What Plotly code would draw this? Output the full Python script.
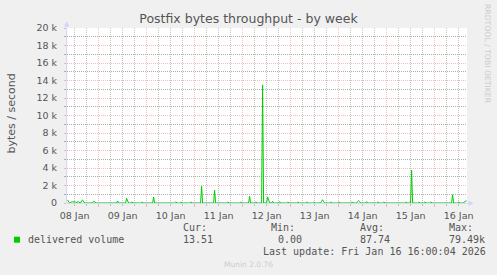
import pandas as pd
import plotly.graph_objects as go

# ---------------- data ----------------
title_text = "Postfix bytes throughput - by week"
y_title = "bytes / second"
series_name = "delivered volume"

# non-zero 30-min samples (bytes/s); all other samples sit at 0
spike_times = [
    "2026-01-08 08:30", "2026-01-08 09:00", "2026-01-08 10:30", "2026-01-08 11:00",
    "2026-01-08 11:30", "2026-01-08 12:00", "2026-01-08 12:30", "2026-01-08 13:30",
    "2026-01-08 14:00", "2026-01-08 15:30", "2026-01-08 16:00", "2026-01-08 16:30",
    "2026-01-08 21:30", "2026-01-08 22:00",
    "2026-01-09 09:30", "2026-01-09 14:00", "2026-01-09 14:30", "2026-01-09 16:30",
    "2026-01-09 21:30",
    "2026-01-10 03:30", "2026-01-10 14:30", "2026-01-10 17:00", "2026-01-10 22:00",
    "2026-01-11 03:30", "2026-01-11 10:00", "2026-01-11 16:30", "2026-01-11 23:00",
    "2026-01-12 03:30", "2026-01-12 06:30", "2026-01-12 10:00", "2026-01-12 12:30",
    "2026-01-12 13:00", "2026-01-12 15:00", "2026-01-12 18:30", "2026-01-12 22:30",
    "2026-01-13 03:30", "2026-01-13 08:00", "2026-01-13 11:30", "2026-01-13 15:30",
    "2026-01-13 16:00", "2026-01-13 16:30", "2026-01-13 20:00",
    "2026-01-14 00:00", "2026-01-14 02:30", "2026-01-14 06:30", "2026-01-14 09:30",
    "2026-01-14 10:00", "2026-01-14 10:30", "2026-01-14 14:00", "2026-01-14 19:30",
    "2026-01-14 22:30",
    "2026-01-15 09:30", "2026-01-15 11:30", "2026-01-15 12:30", "2026-01-15 16:00",
    "2026-01-15 19:00", "2026-01-15 22:00",
    "2026-01-16 09:00", "2026-01-16 12:00", "2026-01-16 15:00", "2026-01-16 15:30",
    "2026-01-16 16:00",
]
spike_values = [
    350, 120, 150, 130,
    150, 100, 120, 150,
    120, 250, 350, 120,
    200, 100,
    230, 530, 150, 120,
    100,
    680, 100, 100, 100,
    1900, 1450, 100, 100,
    760, 120, 13500, 700,
    200, 200, 150, 100,
    100, 100, 100, 200,
    380, 150, 100,
    100, 80, 100, 150,
    280, 150, 150, 100,
    100,
    100, 100, 3750, 100,
    100, 100,
    960, 100, 150, 250,
    250,
]
sample_start = "2026-01-08 08:30"
sample_end = "2026-01-16 16:00"

x_range = ["2026-01-08 08:12", "2026-01-16 16:12"]
day_ticks = ["2026-01-09", "2026-01-10", "2026-01-11", "2026-01-12",
             "2026-01-13", "2026-01-14", "2026-01-15", "2026-01-16"]
label_ticks = ["2026-01-08 12:00", "2026-01-09 12:00", "2026-01-10 12:00",
               "2026-01-11 12:00", "2026-01-12 12:00", "2026-01-13 12:00",
               "2026-01-14 12:00", "2026-01-15 12:00", "2026-01-16 12:00"]
day_labels = ["08 Jan", "09 Jan", "10 Jan", "11 Jan", "12 Jan",
              "13 Jan", "14 Jan", "15 Jan", "16 Jan"]
y_tickvals = [0, 2000, 4000, 6000, 8000, 10000, 12000, 14000, 16000, 18000, 20000]
y_ticktext = ["0", "2 k", "4 k", "6 k", "8 k", "10 k", "12 k", "14 k", "16 k", "18 k", "20 k"]

stat_heads = ["Cur:", "Min:", "Avg:", "Max:"]
stat_values = ["13.51", "0.00", "87.74", "79.49k"]
last_update = "Last update: Fri Jan 16 16:00:04 2026"
munin_ver = "Munin 2.0.76"
rrd_credit = "RRDTOOL / TOBI OETIKER"

# ---------------- build series ----------------
grid = pd.date_range(sample_start, sample_end, freq="30min")
lookup = dict(zip(pd.to_datetime(spike_times), spike_values))
values = [lookup.get(t, 0) for t in grid]

# 6-hourly gridline positions (not at midnight); labels only at noon
label_map = dict(zip(pd.to_datetime(label_ticks), day_labels))
six_h = [t for t in pd.date_range("2026-01-08 12:00", "2026-01-16 12:00", freq="6h")
         if t.hour != 0]
minor_x = [t.strftime("%Y-%m-%d %H:%M") for t in six_h]
minor_x_text = [label_map.get(t, "") for t in six_h]
minor_y = list(range(1000, 20000, 2000))

# ---------------- layout geometry ----------------
W_IMG, H_IMG = 497, 275
L, R, T, B = 67, 467, 28, 203
PW, PH = R - L, B - T

def px(x):
    return (x - L) / PW

def py(y):
    return (B - y) / PH

FONT_C = "#555555"
MGRID = "rgba(230,100,100,0.42)"
GRID_X = "rgba(140,140,140,0.5)"
GRID_Y = "rgba(130,130,130,0.65)"
AXIS_C = "#CFD6F8"
GREEN = "#00CC00"
DOT = "1px,1px"

fig = go.Figure()
# invisible helpers so the overlay grid axes are drawn
fig.add_trace(go.Scatter(x=x_range, y=[0, 0], mode="lines", xaxis="x2", yaxis="y",
                         line=dict(width=0), showlegend=False, hoverinfo="skip"))
fig.add_trace(go.Scatter(x=x_range, y=[0, 0], mode="lines", xaxis="x", yaxis="y2",
                         line=dict(width=0), showlegend=False, hoverinfo="skip"))
fig.add_trace(go.Scatter(x=grid, y=values, mode="lines",
                         line=dict(color=GREEN, width=1), showlegend=False,
                         hoverinfo="skip", cliponaxis=False))

fig.update_layout(
    width=W_IMG, height=H_IMG,
    margin=dict(l=L, r=W_IMG - R, t=T, b=H_IMG - B, pad=0),
    paper_bgcolor="#F0F0F0", plot_bgcolor="#FFFFFF",
    font=dict(family="DejaVu Sans", color=FONT_C, size=9.5),
    title=dict(text=title_text, x=0.5, xref="container", xanchor="center",
               y=1 - 19 / H_IMG, yref="container", yanchor="middle",
               font=dict(family="DejaVu Sans", size=12.5, color=FONT_C)),
    # gray 6-hour grid + day labels at noon
    xaxis=dict(type="date", range=x_range, tickmode="array", tickvals=minor_x,
               ticktext=minor_x_text, showgrid=True, gridcolor=GRID_X,
               griddash=DOT, gridwidth=1, ticks="outside", ticklen=2,
               tickcolor=GRID_X, ticklabelstandoff=2, zeroline=False, showline=False,
               layer="below traces",
               tickfont=dict(family="DejaVu Sans", size=9.5, color=FONT_C)),
    # red midnight grid
    xaxis2=dict(type="date", range=x_range, overlaying="x", anchor="y", side="bottom",
                tickmode="array", tickvals=day_ticks, showticklabels=False,
                showgrid=True, gridcolor=MGRID, griddash=DOT, gridwidth=1,
                ticks="outside", ticklen=3, tickcolor=MGRID, zeroline=False,
                layer="below traces"),
    yaxis=dict(range=[0, 20000], tickmode="array", tickvals=y_tickvals, ticktext=y_ticktext,
               showgrid=True, gridcolor=MGRID, griddash=DOT, gridwidth=1,
               ticks="outside", ticklen=2, tickcolor=MGRID, ticklabelstandoff=5,
               zeroline=False, showline=False, layer="below traces",
               tickfont=dict(family="DejaVu Sans", size=9.5, color=FONT_C)),
    # gray 1k minor grid
    yaxis2=dict(range=[0, 20000], overlaying="y", anchor="x", side="left",
                tickmode="array", tickvals=minor_y, showticklabels=False,
                showgrid=True, gridcolor=GRID_Y, griddash=DOT, gridwidth=1,
                ticks="outside", ticklen=2, tickcolor=GRID_Y, zeroline=False,
                layer="below traces"),
)

# axis lines and arrows
shapes = [
    dict(type="line", xref="paper", yref="paper", x0=px(66.7), x1=px(66.7),
         y0=py(203.3), y1=py(24), line=dict(color=AXIS_C, width=1), layer="below"),
    dict(type="line", xref="paper", yref="paper", x0=px(66.7), x1=px(470),
         y0=py(203.3), y1=py(203.3), line=dict(color=AXIS_C, width=1), layer="below"),
    dict(type="path", xref="paper", yref="paper",
         path=f"M {px(66.7)},{py(21.5)} L {px(63.9)},{py(26.5)} L {px(69.5)},{py(26.5)} Z",
         fillcolor=AXIS_C, line=dict(width=0)),
    dict(type="path", xref="paper", yref="paper",
         path=f"M {px(473.5)},{py(203.3)} L {px(468.5)},{py(200.5)} L {px(468.5)},{py(206.1)} Z",
         fillcolor=AXIS_C, line=dict(width=0)),
    # legend colour box
    dict(type="rect", xref="paper", yref="paper", x0=px(14), x1=px(20),
         y0=py(242.7), y1=py(236.7), fillcolor=GREEN, line=dict(width=0)),
]
fig.update_layout(shapes=shapes)

MONO = dict(family="DejaVu Sans Mono", size=10, color=FONT_C)
ann = []

def text(x, y, s, font, xanchor="left", **kw):
    ann.append(dict(x=px(x), y=py(y), xref="paper", yref="paper", text=s,
                    showarrow=False, xanchor=xanchor, yanchor="middle", font=font, **kw))

text(10.5, 114, y_title, dict(family="DejaVu Sans", size=11, color=FONT_C),
     xanchor="center", textangle=-90)
text(26, 239.7, series_name, MONO)
head_x = [181, 269.3, 358.3, 446.7]
val_x = [181, 275.7, 358.3, 446.7]
for hx, vx, h, v in zip(head_x, val_x, stat_heads, stat_values):
    text(hx, 227.7, h, MONO)
    text(vx, 239.7, v, MONO)
text(261.3, 251.7, last_update, MONO)
text(248, 264, munin_ver, dict(family="DejaVu Sans", size=7.5, color="#CCCCCC"),
     xanchor="center")
text(487.5, 53.5, rrd_credit, dict(family="DejaVu Sans", size=7.7, color="#CCCCCC"),
     xanchor="center", textangle=90)
fig.update_layout(annotations=ann)

fig.write_html("out.html")
